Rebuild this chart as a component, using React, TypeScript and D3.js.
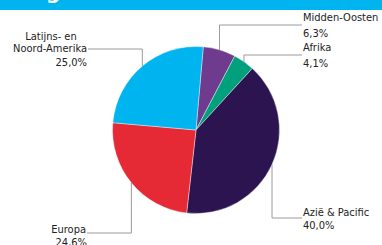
import React from "react";
import * as d3 from "d3";

const regions = ["Midden-Oosten", "Afrika", "Azië & Pacific", "Europa", "Latijns- en Noord-Amerika"];
const shares = [6.3, 4.1, 40.0, 24.6, 25.0];
const valueLabels = ["6,3%", "4,1%", "40,0%", "24,6%", "25,0%"];
const colors = ["#6E3B8F", "#00A07C", "#2C1450", "#E52935", "#00B4F0"];

const W = 382;
const H = 245;
const cx = 196;
const cy = 130;
const R = 83.5;
const FONT = "'DejaVu Sans Condensed', 'DejaVu Sans', sans-serif";

export default function App() {
  const pie = d3
    .pie<number>()
    .sort(null)
    .value((d) => d)
    .startAngle((5 * Math.PI) / 180)
    .endAngle((5 * Math.PI) / 180 + 2 * Math.PI);
  const arcs = pie(shares);
  const arc = d3.arc<d3.PieArcDatum<number>>().innerRadius(0).outerRadius(R);

  const edge = (a: d3.PieArcDatum<number>) => {
    const m = (a.startAngle + a.endAngle) / 2;
    return [cx + R * Math.sin(m), cy - R * Math.cos(m)];
  };

  // label layout: elbow y, label anchor x, side
  const layout = [
    { y: 25, x: 302, side: "right" },
    { y: 55, x: 302, side: "right" },
    { y: 218, x: 302, side: "right" },
    { y: 233, x: 87, side: "left" },
    { y: 49, x: 88, side: "left" },
  ];

  return (
    <svg
      width={W}
      height={H}
      style={{ position: "absolute", left: 0, top: 0, background: "#fff" }}
      fontFamily={FONT}
    >
      <rect x={0} y={0} width={W} height={10} fill="#00B4F0" />
      <text x={46} y={-1} fill="#fff" fontSize={20} fontWeight="bold" fontFamily="'DejaVu Sans', sans-serif">
        g
      </text>
      <g transform={`translate(${cx},${cy})`}>
        {arcs.map((a, i) => (
          <path key={i} d={arc(a) || ""} fill={colors[i]} stroke="#fff" strokeWidth={0.4} />
        ))}
      </g>
      {arcs.map((a, i) => {
        const [ex, ey] = edge(a);
        const L = layout[i];
        return (
          <polyline
            key={"l" + i}
            points={`${ex},${ey} ${ex},${L.y} ${L.x},${L.y}`}
            fill="none"
            stroke="#9a9a9a"
            strokeWidth={1}
          />
        );
      })}
      {/* right side labels */}
      {[0, 1].map((i) => (
        <g key={"t" + i} fontSize={11} fill="#222">
          <text x={layout[i].x + 1} y={layout[i].y - 4}>{regions[i]}</text>
          <text x={layout[i].x + 1} y={layout[i].y + 12}>{valueLabels[i]}</text>
        </g>
      ))}
      <g fontSize={11} fill="#222">
        <text x={layout[2].x + 1} y={layout[2].y - 2}>{regions[2]}</text>
        <text x={layout[2].x + 1} y={layout[2].y + 11}>{valueLabels[2]}</text>
      </g>
      <g fontSize={11} fill="#222" textAnchor="end">
        <text x={layout[3].x - 1} y={layout[3].y}>{regions[3]}</text>
        <text x={layout[3].x} y={layout[3].y + 13}>{valueLabels[3]}</text>
      </g>
      <g fontSize={11} fill="#222">
        <text x={51} y={layout[4].y - 9} textAnchor="middle">{"Latijns- en"}</text>
        <text x={layout[4].x - 1} y={layout[4].y + 3} textAnchor="end">{"Noord-Amerika"}</text>
        <text x={layout[4].x - 1} y={layout[4].y + 17} textAnchor="end">{valueLabels[4]}</text>
      </g>
    </svg>
  );
}
